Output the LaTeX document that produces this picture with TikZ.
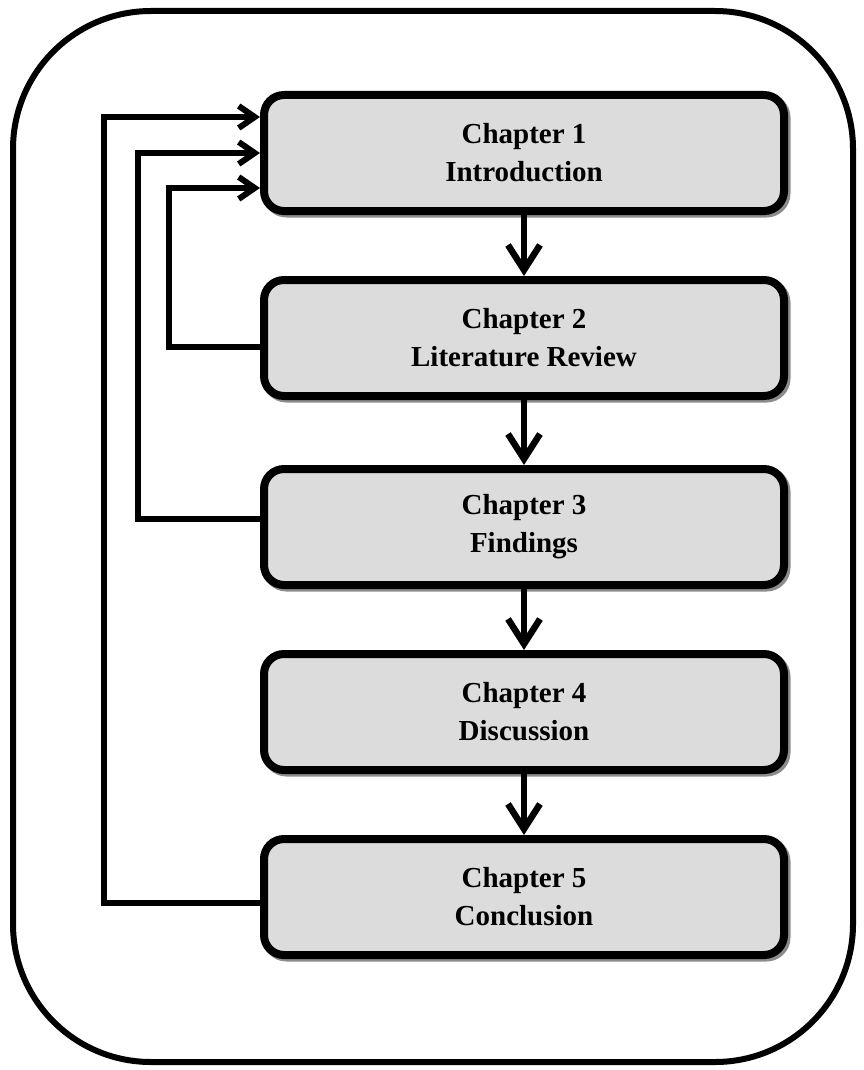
\documentclass[tikz,border=0pt]{standalone}
\usepackage{fontspec}
\setmainfont{Liberation Serif}
\usetikzlibrary{arrows.meta,shadows,calc}
\begin{document}
\begin{tikzpicture}[x=1pt,y=-1pt,
  chap/.style={draw=black, line width=8pt, fill=boxgray, rounded corners=20pt,
    minimum width=520pt, minimum height=116pt, align=center, inner sep=0pt,
    font=\fontsize{29}{38}\selectfont\bfseries,
    drop shadow={shadow xshift=2.5pt, shadow yshift=-2.5pt, fill=shadowgray, draw=shadowgray, line width=8pt, opacity=1}},
  down/.style={line width=6.5pt, -{Straight Barb[length=25pt,width=32pt]}},
  fb/.style={line width=6pt, -{Straight Barb[length=16pt,width=22pt]}}
]
\definecolor{boxgray}{HTML}{DCDCDC}
\definecolor{shadowgray}{HTML}{8C8C8C}
\useasboundingbox (0,0) rectangle (864,1070);
\draw[line width=6pt, rounded corners=138pt] (13,11) rectangle (853,1062);

\node[chap] (b1) at (524,153) {Chapter 1\\Introduction};
\node[chap] (b2) at (524,338) {Chapter 2\\Literature Review};
\node[chap] (b3) at (524,527) {Chapter 3\\Findings};
\node[chap] (b4) at (524,712) {Chapter 4\\Discussion};
\node[chap] (b5) at (524,897) {Chapter 5\\Conclusion};

\draw[down] (b1.south) -- (b2.north);
\draw[down] (b2.south) -- (b3.north);
\draw[down] (b3.south) -- (b4.north);
\draw[down] (b4.south) -- (b5.north);

\coordinate (c1) at (104,117);
\coordinate (c2) at (138,153);
\coordinate (c3) at (169,188);
\draw[fb] ($(b5.west)+(0,6)$) -| (c1) -- ($(b1.west)+(0,-36)$);
\draw[fb] ($(b3.west)+(0,-8)$) -| (c2) -- (b1.west);
\draw[fb] ($(b2.west)+(0,9)$) -| (c3) -- ($(b1.west)+(0,35)$);
\end{tikzpicture}
\end{document}
